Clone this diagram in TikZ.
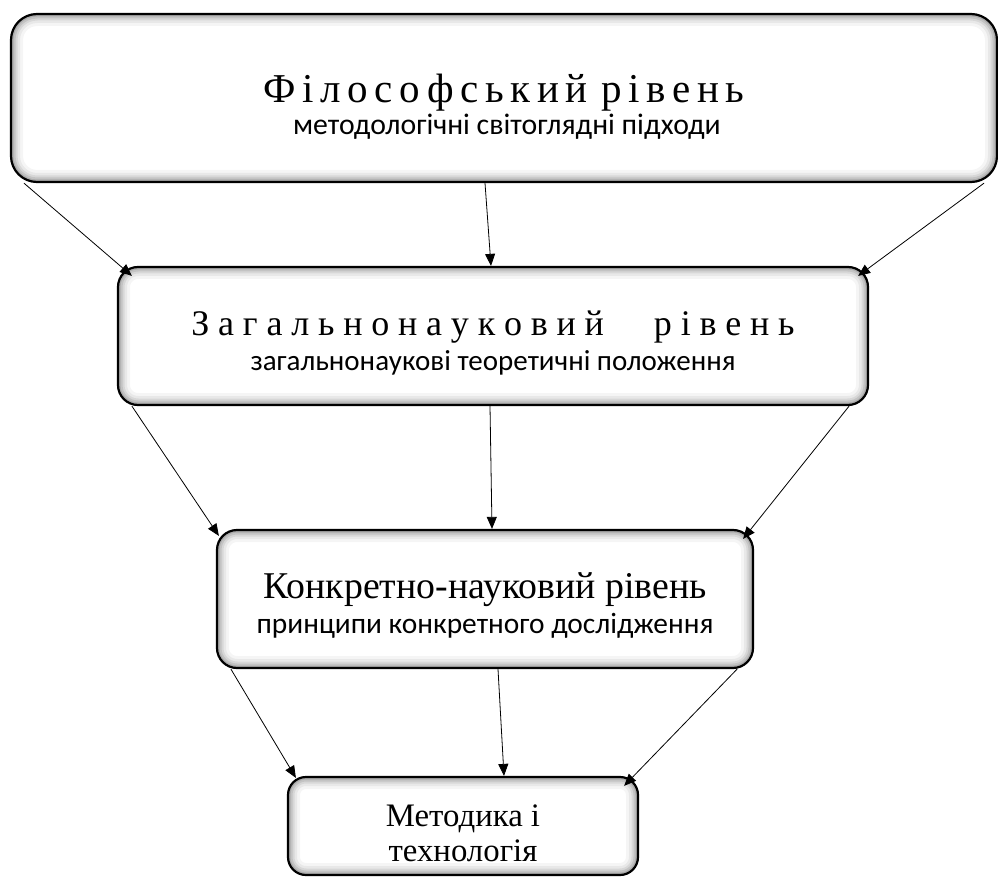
\documentclass[tikz,border=0pt]{standalone}
\usepackage{fontspec}
\setmainfont{Liberation Serif}
\newfontfamily\sansf{Carlito}
\usetikzlibrary{arrows.meta,calc}
\newcommand\lnA[2]{\rule[-#2]{0pt}{\dimexpr#1+#2\relax}}
\newcommand\gapA{\hspace{6.7pt}}
\newcommand\gapB{\hspace{8.8pt}}
\newcommand\tightlines{\baselineskip=0pt\lineskip=0pt\lineskiplimit=0pt}
\tikzset{
  lvl/.style={draw=black, line width=2.2pt, rounded corners=#1, fill=white,
    align=center, inner sep=0pt,
    path picture={
      \foreach \w/\o in {24/0.04,18/0.05,13/0.07,9/0.09,5/0.12}{
        \draw[black, opacity=\o, line width=\w pt, rounded corners=#1]
          (path picture bounding box.south west) rectangle
          (path picture bounding box.north east);
      }
    }},
  conn/.style={line width=0.8pt, -{Triangle[length=12pt,width=10pt]}},
}
\begin{document}
\begin{tikzpicture}[x=1pt,y=-1pt]
\useasboundingbox (0,0) rectangle (998,877);
\node[lvl=26pt, minimum width=986pt, minimum height=168pt,
      font=\fontsize{41}{0}\selectfont\tightlines] (b1) at (504,98)
  {\lnA{49pt}{10pt}Ф\gapA і\gapA л\gapA о\gapA с\gapA о\gapA ф\gapA с\gapA ь\gapA к\gapA и\gapA й\hspace{13.2pt}р\gapA і\gapA в\gapA е\gapA н\gapA ь\\
   \hspace*{6pt}\sansf\fontsize{29.75}{0}\selectfont\lnA{22pt}{8pt}методологічні світоглядні підходи};
\node[lvl=20pt, minimum width=750pt, minimum height=138pt,
      font=\fontsize{36}{0}\selectfont\tightlines] (b2) at (493,336)
  {\lnA{41pt}{10pt}З\gapB а\gapB г\gapB а\gapB л\gapB ь\gapB н\gapB о\gapB н\gapB а\gapB у\gapB к\gapB о\gapB в\gapB и\gapB й\hspace{50pt}р\gapB і\gapB в\gapB е\gapB н\gapB ь\\
   \sansf\fontsize{29}{0}\selectfont\lnA{25pt}{8pt}загальнонаукові теоретичні положення};
\node[lvl=20pt, minimum width=536pt, minimum height=138pt,
      font=\fontsize{37.8}{0}\selectfont\tightlines] (b3) at (485,599)
  {\lnA{41pt}{10pt}Конкретно-науковий рівень\\
   \sansf\fontsize{29.4}{0}\selectfont\lnA{25pt}{8pt}принципи конкретного дослідження};
\node[lvl=18pt, minimum width=350pt, minimum height=98pt,
      font=\fontsize{32.8}{0}\selectfont\tightlines] (b4) at (463,826)
  {\lnA{44pt}{10pt}Методика і\\\lnA{25pt}{9pt}технологія};

\draw[conn] ([xshift=14pt]b1.south west) -- ([shift={(15,10)}]b2.north west);
\draw[conn] ([xshift=-19pt]b1.south) -- ([xshift=-2pt]b2.north);
\draw[conn] ([xshift=-14pt]b1.south east) -- ([shift={(-11,10)}]b2.north east);

\draw[conn] ([xshift=15pt]b2.south west) -- ([shift={(3,7)}]b3.north west);
\draw[conn] ([xshift=-3pt]b2.south) -- ([xshift=7pt]b3.north);
\draw[conn] ([xshift=-20pt]b2.south east) -- ([shift={(-11,10)}]b3.north east);

\draw[conn] ([xshift=15pt]b3.south west) -- ([shift={(9,2)}]b4.north west);
\draw[conn] ([xshift=13pt]b3.south) -- ([xshift=41pt]b4.north);
\draw[conn] ([xshift=-17pt]b3.south east) -- ([shift={(-15,10)}]b4.north east);
\end{tikzpicture}
\end{document}
